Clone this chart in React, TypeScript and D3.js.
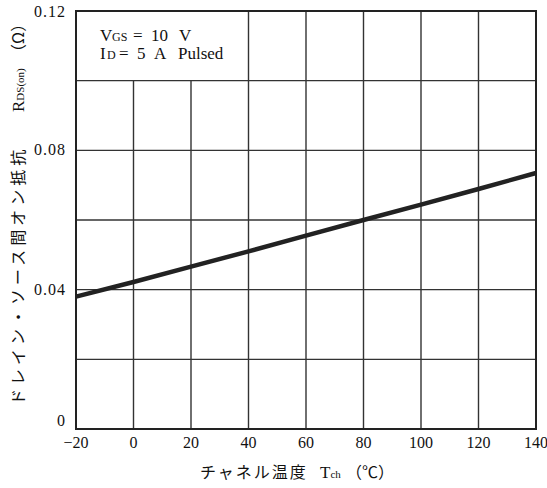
import React from "react";
import * as d3 from "d3";

const temps = [-20, 0, 20, 40, 60, 80, 100, 120, 140];
const rdsOn = [0.038, 0.0422, 0.0466, 0.051, 0.0555, 0.06, 0.0644, 0.0689, 0.0735];
const xTicks = [-20, 0, 20, 40, 60, 80, 100, 120, 140];
const xTickLabels = ["−20", "0", "20", "40", "60", "80", "100", "120", "140"];
const yTicks = [0, 0.02, 0.04, 0.06, 0.08, 0.1, 0.12];
const yTickLabels = [
  { v: 0, t: "0" },
  { v: 0.04, t: "0.04" },
  { v: 0.08, t: "0.08" },
  { v: 0.12, t: "0.12" },
];

const W = 547;
const H = 488;
const L = 76, R = 536, T = 11, B = 429;
const serif = "'Liberation Serif', 'DejaVu Serif', serif";
const jp = "'Noto Sans CJK JP', 'Liberation Serif', serif";

export default function App() {
  const x = d3.scaleLinear().domain([-20, 140]).range([L, R]);
  const y = d3.scaleLinear().domain([0, 0.12]).range([B, T]);
  const line = d3
    .line<number>()
    .x((_, i) => x(temps[i]))
    .y((d) => y(d));
  const boxBottom = y(0.1);
  const gridC = "#333";
  return (
    <svg
      width={W}
      height={H}
      style={{ position: "absolute", left: 0, top: 0, background: "#fff" }}
    >
      {xTicks.slice(1, -1).map((t) => (
        <line
          key={"vx" + t}
          x1={x(t)}
          x2={x(t)}
          y1={t < 40 ? boxBottom : T}
          y2={B}
          stroke={gridC}
          strokeWidth={1.4}
        />
      ))}
      {yTicks.slice(1, -1).map((t) => (
        <line
          key={"hy" + t}
          x1={L}
          x2={R}
          y1={y(t)}
          y2={y(t)}
          stroke={gridC}
          strokeWidth={1.4}
        />
      ))}
      <rect
        x={L}
        y={T}
        width={R - L}
        height={B - T}
        fill="none"
        stroke="#222"
        strokeWidth={2}
      />
      <path d={line(rdsOn) || ""} fill="none" stroke="#222" strokeWidth={4.5} />
      {/* annotation */}
      <text y={41} fontFamily={serif} fontSize={17} fill="#111">
        <tspan x={100}>V</tspan>
        <tspan x={112} fontSize={12}>GS</tspan>
        <tspan x={133}>=</tspan>
        <tspan x={151}>10</tspan>
        <tspan x={179}>V</tspan>
      </text>
      <text y={59} fontFamily={serif} fontSize={17} fill="#111">
        <tspan x={100}>I</tspan>
        <tspan x={107} fontSize={12}>D</tspan>
        <tspan x={119}>=</tspan>
        <tspan x={137}>5</tspan>
        <tspan x={154}>A</tspan>
        <tspan x={178}>Pulsed</tspan>
      </text>
      {yTickLabels.map((d) => (
        <text
          key={"yl" + d.v}
          x={66}
          y={y(d.v) + (d.v === 0 ? -3 : d.v === 0.12 ? 6 : 5)}
          textAnchor="end"
          fontFamily={serif}
          fontSize={16}
          fill="#111"
          letterSpacing={1}
        >
          {d.t}
        </text>
      ))}
      {xTicks.map((t, i) => (
        <text
          key={"xl" + t}
          x={x(t)}
          y={448}
          textAnchor="middle"
          fontFamily={serif}
          fontSize={16}
          fill="#111"
        >
          {xTickLabels[i]}
        </text>
      ))}
      {/* x axis title */}
      <text x={200} y={478} fontSize={16} fill="#111" fontFamily={jp}>
        <tspan letterSpacing={2}>チャネル温度</tspan>
        <tspan x={320} fontFamily={serif} fontSize={17}>T</tspan>
        <tspan fontFamily={serif} fontSize={11}>ch</tspan>
        <tspan x={346} fontFamily={jp} fontSize={16}>（℃）</tspan>
      </text>
      {/* y axis title */}
      <text
        transform={`translate(24, 405) rotate(-90)`}
        fontSize={16}
        fill="#111"
        fontFamily={jp}
      >
        <tspan letterSpacing={4}>ドレイン・ソース間オン抵抗</tspan>
        <tspan x={293} fontFamily={serif} fontSize={17}>R</tspan>
        <tspan fontFamily={serif} fontSize={11}>DS(on)</tspan>
        <tspan x={345} fontFamily={jp} fontSize={16}>（Ω）</tspan>
      </text>
    </svg>
  );
}
